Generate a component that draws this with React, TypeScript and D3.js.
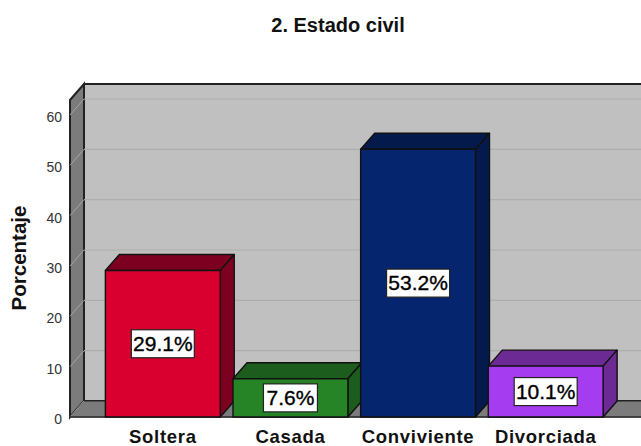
import React from "react";
import * as d3 from "d3";

const categories = ["Soltera", "Casada", "Conviviente", "Divorciada"];
const values = [29.1, 7.6, 53.2, 10.1];
const valueLabels = ["29.1%", "7.6%", "53.2%", "10.1%"];
const ticks = [0, 10, 20, 30, 40, 50, 60];
const faceColors = ["#d90030", "#268426", "#06256f", "#a63cf0"];
const sideColors = ["#7d0020", "#1c5c1c", "#041a4d", "#6b2a94"];

const FONT = "'Liberation Sans', Arial, sans-serif";
const DX = 14;
const DY = -16;
const X0 = 70;
const Y0 = 417;

export default function App() {
  const y = d3.scaleLinear().domain([0, 60]).range([Y0, 115]);
  const x = d3.scaleBand<string>().domain(categories).range([99, 609.5]).paddingInner(0.1).paddingOuter(0.05);
  const topFront = 100;
  const right = 660;
  const poly = (pts: number[][]) => pts.map((p) => p.join(",")).join(" ");

  return (
    <svg width={641} height={446} style={{ position: "fixed", left: 0, top: 0, display: "block" }}>
      <rect width={641} height={446} fill="#fff" />
      <text x={338} y={32} textAnchor="middle" fontFamily={FONT} fontSize={20} fontWeight={700} fill="#111">2. Estado civil</text>

      {/* back wall */}
      <rect x={X0 + DX} y={topFront + DY} width={right} height={Y0 - topFront} fill="#c0c0c0" stroke="#222" strokeWidth={2} />
      {/* left wall */}
      <polygon points={poly([[X0, topFront], [X0 + DX, topFront + DY], [X0 + DX, Y0 + DY], [X0, Y0]])} fill="#7b7b7b" stroke="#222" strokeWidth={2} />
      {/* floor */}
      <polygon points={poly([[X0, Y0], [X0 + DX, Y0 + DY], [right, Y0 + DY], [right, Y0]])} fill="#7b7b7b" stroke="#222" strokeWidth={1} />

      {ticks.map((t) => (
        <g key={t}>
          {t > 0 && <line x1={X0 + DX} x2={right} y1={y(t) + DY} y2={y(t) + DY} stroke="#adadad" strokeWidth={1.2} />}
          <line x1={X0} x2={X0 + DX} y1={y(t)} y2={y(t) + DY} stroke="#a6a6a6" strokeWidth={1} />
          <text x={62} y={y(t) + 7} textAnchor="end" fontFamily={FONT} fontSize={14} fill="#333">{t}</text>
        </g>
      ))}

      <line x1={X0} x2={right} y1={Y0} y2={Y0} stroke="#333" strokeWidth={1.5} />

      <text transform="translate(26,258) rotate(-90)" textAnchor="middle" fontFamily={FONT} fontSize={20.5} fontWeight={700} fill="#111">Porcentaje</text>

      {categories.map((c, i) => {
        const bx = x(c)!;
        const bw = x.bandwidth();
        const by = y(values[i]);
        return (
          <g key={c} stroke="#111" strokeWidth={1.4} strokeLinejoin="round">
            <polygon points={poly([[bx, by], [bx + DX, by + DY], [bx + bw + DX, by + DY], [bx + bw, by]])} fill={sideColors[i]} />
            <polygon points={poly([[bx + bw, by], [bx + bw + DX, by + DY], [bx + bw + DX, Y0 + DY], [bx + bw, Y0]])} fill={sideColors[i]} />
            <rect x={bx} y={by} width={bw} height={Y0 - by} fill={faceColors[i]} />
          </g>
        );
      })}

      {categories.map((c, i) => {
        const cx = x(c)! + x.bandwidth() / 2;
        const cy = (y(values[i]) + Y0) / 2;
        const w = valueLabels[i].length === 5 ? 63 : 54;
        return (
          <g key={c}>
            <rect x={cx - w / 2} y={cy - 14} width={w} height={28} fill="#fff" stroke="#222" strokeWidth={1.2} />
            <text x={cx} y={cy + 7} textAnchor="middle" fontFamily={FONT} fontSize={21} stroke="#000" strokeWidth={0.35} fill="#000">{valueLabels[i]}</text>
            <text x={cx} y={443} textAnchor="middle" fontFamily={FONT} fontSize={18.5} fontWeight={700} letterSpacing={0.7} fill="#111">{c}</text>
          </g>
        );
      })}
    </svg>
  );
}
